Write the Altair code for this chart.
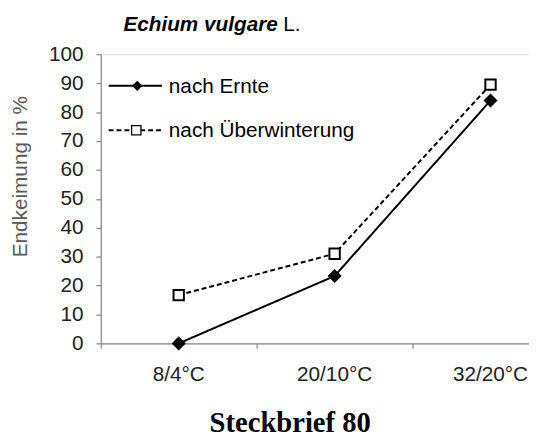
import altair as alt
import pandas as pd

categories = ["8/4°C", "20/10°C", "32/20°C"]
series_names = ["nach Ernte", "nach Überwinterung"]
ernte = [0.0, 23.3, 84.0]
ueberwinterung = [16.7, 31.0, 89.5]
y_ticks = [0, 10, 20, 30, 40, 50, 60, 70, 80, 90, 100]

W, H = 434, 293
XMAX = 434 / 158.0

rows = []
for i, c in enumerate(categories):
    rows.append({"cat": c, "xi": i + 0.5, "v": ernte[i], "s": series_names[0]})
    rows.append({"cat": c, "xi": i + 0.5, "v": ueberwinterung[i], "s": series_names[1]})
df = pd.DataFrame(rows)
cat_df = pd.DataFrame({"cat": categories, "xi": [i + 0.5 for i in range(len(categories))]})

xscale = alt.Scale(domain=[0, XMAX], nice=False, zero=False)
yscale = alt.Scale(domain=[0, 100], nice=False)

AX = "#868686"
FONT = "Liberation Sans"
FS = 21

base = alt.Chart(df)

x_axis = alt.Axis(values=[0, 1, 2], labels=False, title=None, grid=False,
                  domainColor=AX, tickColor=AX, tickSize=5, domainWidth=1.2, tickWidth=1.2)
y_axis = alt.Axis(values=y_ticks, tickCount=11, title=None, grid=False, domainColor=AX, tickColor=AX,
                  tickSize=5, labelPadding=13, labelFont=FONT, labelFontSize=FS,
                  labelOverlap=False, labelBound=False, labelFlush=False,
                  labelColor="#222222", domainWidth=1.2, tickWidth=1.2)
x_enc = alt.X("xi:Q", scale=xscale, axis=x_axis)
y_enc = alt.Y("v:Q", scale=yscale, axis=y_axis)

dash_scale = alt.Scale(domain=series_names, range=[[1, 0], [5, 3]])
shape_scale = alt.Scale(domain=series_names, range=["diamond", "square"])
fill_scale = alt.Scale(domain=series_names, range=["black", "white"])
size_scale = alt.Scale(domain=series_names, range=[130, 110])

lines = base.mark_line(color="black", strokeWidth=2).encode(
    x=x_enc, y=y_enc,
    strokeDash=alt.StrokeDash("s:N", scale=dash_scale, legend=None),
    detail="s:N",
)
points = base.mark_point(filled=False, stroke="black", strokeWidth=2, opacity=1).encode(
    x=x_enc, y=y_enc,
    shape=alt.Shape("s:N", scale=shape_scale, legend=None),
    fill=alt.Fill("s:N", scale=fill_scale, legend=None),
    size=alt.Size("s:N", scale=size_scale, legend=None),
)

xlabels = alt.Chart(cat_df).mark_text(font=FONT, fontSize=FS, color="#222222", baseline="alphabetic").encode(
    x=x_enc, y=alt.value(331), text="cat:N")

layers = [lines, points, xlabels]

# legend
leg_y = [32, 77]
for k, name in enumerate(series_names):
    ldf = pd.DataFrame({"s": [name]})
    dash = [1, 0] if k == 0 else [5, 3]
    layers.append(alt.Chart(ldf).mark_rule(color="black", strokeWidth=2, strokeDash=dash).encode(
        x=alt.value(8), x2=alt.value(62), y=alt.value(leg_y[k])))
    if k == 0:
        layers.append(alt.Chart(ldf).mark_point(shape="diamond", filled=True, color="black", size=110, opacity=1).encode(
            x=alt.value(37), y=alt.value(leg_y[k])))
    else:
        layers.append(alt.Chart(ldf).mark_point(shape="square", filled=True, fill="white", stroke="black",
                                                 strokeWidth=1.3, size=90, opacity=1).encode(
            x=alt.value(36), y=alt.value(leg_y[k])))
    layers.append(alt.Chart(ldf).mark_text(font=FONT, fontSize=FS, align="left", baseline="middle", color="black").encode(
        x=alt.value(69), y=alt.value(leg_y[k] + 1), text="s:N"))

# titles
tdf = pd.DataFrame({"t": ["Echium vulgare"]})
layers.append(alt.Chart(tdf).mark_text(font=FONT, fontSize=FS, fontWeight="bold", fontStyle="italic",
                                       align="left", baseline="alphabetic", color="black").encode(
    x=alt.value(23), y=alt.value(-24), text="t:N"))
ldf2 = pd.DataFrame({"t": ["L."]})
layers.append(alt.Chart(ldf2).mark_text(font=FONT, fontSize=FS, align="left", baseline="alphabetic", color="black").encode(
    x=alt.value(185), y=alt.value(-24), text="t:N"))
ytdf = pd.DataFrame({"t": ["Endkeimung in %"]})
layers.append(alt.Chart(ytdf).mark_text(font=FONT, fontSize=FS, angle=270, align="center", baseline="middle",
                                        color="#595959").encode(
    x=alt.value(-81), y=alt.value(124), text="t:N"))
sdf = pd.DataFrame({"t": ["Steckbrief 80"]})
layers.append(alt.Chart(sdf).mark_text(font="Liberation Serif", fontSize=29, fontWeight="bold",
                                       align="center", baseline="alphabetic", color="black").encode(
    x=alt.value(192), y=alt.value(383), text="t:N"))

chart = alt.layer(*layers).properties(
    width=W, height=H,
    autosize=alt.AutoSizeParams(type="none"),
    padding={"left": 94, "top": 44, "right": 0, "bottom": 93},
).configure_view(stroke=None).configure(background="white")

chart.save("out.html", embed_options={"renderer": "svg", "actions": False})
